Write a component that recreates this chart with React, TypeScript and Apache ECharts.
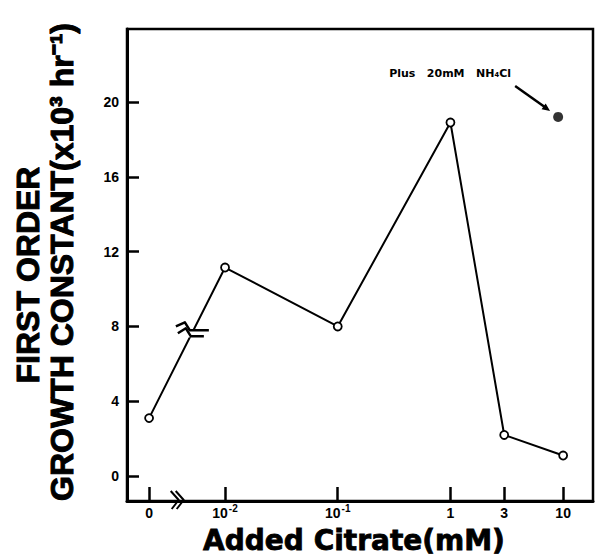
import React, { useEffect, useRef } from "react";
import * as echarts from "echarts";

// ---- data ----
const xLabelBase = ["0", "10", "10", "1", "3", "10"];
const xLabelExp = ["", "-2", "-1", "", "", ""];
const citrateMM = [0, 0.01, 0.1, 1, 3, 10];
const growthConstant = [3.1, 11.15, 8.0, 18.9, 2.2, 1.1];
const nh4clCitrate = [10];
const nh4clGrowth = [19.2];
const yTicks = [0, 4, 8, 12, 16, 20];

// log-scale position on axis (decades above 10^-2); 0 sits left of an axis break
const ZERO_POS = -0.674;
const AXIS_BREAK_POS = -0.42;
const toAxis = (c: number) => (c === 0 ? ZERO_POS : Math.log10(c) + 2);
const xPositions = citrateMM.map(toAxis);

const FONT_LABEL = '"Liberation Sans", Arial, sans-serif';

export default function App() {
  const ref = useRef<HTMLDivElement>(null);
  useEffect(() => {
    if (!ref.current) return;
    const chart = echarts.init(ref.current, undefined, { renderer: "svg" });
    const option: any = {
      animation: false,
      backgroundColor: "#fff",
      grid: {
        left: 127,
        top: 29,
        width: 466,
        height: 472,
        show: true,
        borderColor: "#000",
        borderWidth: 2.5,
        backgroundColor: "transparent",
      },
      xAxis: {
        type: "value",
        min: -0.87,
        max: 3.265,
        axisLine: { show: true, onZero: false, lineStyle: { color: "#000", width: 3 } },
        axisTick: {
          show: true,
          inside: true,
          length: 14,
          customValues: xPositions,
          lineStyle: { color: "#000", width: 2.5 },
        },
        axisLabel: {
          customValues: xPositions,
          margin: 1,
          color: "#000",
          fontSize: 14,
          fontWeight: "bold",
          fontFamily: FONT_LABEL,
          formatter: (v: number) => {
            const i = xPositions.findIndex((p) => Math.abs(p - v) < 1e-6);
            if (i < 0) return "";
            return xLabelExp[i]
              ? `{b|${xLabelBase[i]}}{s|${xLabelExp[i]}}`
              : `{b|${xLabelBase[i]}}`;
          },
          rich: {
            b: { fontSize: 14, fontWeight: "bold", fontFamily: FONT_LABEL, color: "#000", lineHeight: 18, verticalAlign: "bottom" },
            s: { fontSize: 10, fontWeight: "bold", fontFamily: FONT_LABEL, color: "#000", lineHeight: 10, verticalAlign: "top", padding: [1, 0, 0, 1] },
          },
        },
        splitLine: { show: false },
      },
      yAxis: {
        type: "value",
        min: -1.33,
        max: 23.9,
        axisLine: { show: true, onZero: false, lineStyle: { color: "#000", width: 3 } },
        axisTick: {
          show: true,
          inside: true,
          length: 12,
          customValues: yTicks,
          lineStyle: { color: "#000", width: 2.5 },
        },
        axisLabel: {
          customValues: yTicks,
          margin: 8,
          color: "#000",
          fontSize: 14,
          fontWeight: "bold",
          fontFamily: FONT_LABEL,
        },
        splitLine: { show: false },
      },
      series: [
        {
          type: "line",
          data: citrateMM.map((c, i) => [toAxis(c), growthConstant[i]]),
          symbol: "circle",
          symbolSize: 8,
          itemStyle: { color: "#fff", borderColor: "#000", borderWidth: 1.8 },
          lineStyle: { color: "#000", width: 2 },
          z: 3,
        },
        {
          type: "scatter",
          data: nh4clCitrate.map((c, i) => [toAxis(c), nh4clGrowth[i]]),
          symbol: "circle",
          symbolSize: 10,
          symbolOffset: [-5, 0],
          itemStyle: { color: "#000" },
          z: 4,
        },
      ],
    };
    chart.setOption(option);

    const px = (x: number, y: number) =>
      chart.convertToPixel({ gridIndex: 0 }, [x, y]) as number[];
    const p0 = px(xPositions[0], growthConstant[0]);
    const p1 = px(xPositions[1], growthConstant[1]);
    const t = 0.55;
    const bc = [p0[0] + (p1[0] - p0[0]) * t, p0[1] + (p1[1] - p0[1]) * t];
    const ax = px(AXIS_BREAK_POS, 0);
    const axY = px(0, -1.33)[1];
    const fp = px(toAxis(nh4clCitrate[0]), nh4clGrowth[0]);
    const fpx = fp[0] - 5;
    const fpy = fp[1];

    const rel = (c: number[], pts: number[][]) => pts.map((p) => [c[0] + p[0], c[1] + p[1]]);
    const blk = { stroke: "#000", lineWidth: 2.5, fill: null, lineJoin: "round" };

    // arrow
    const a0 = [fpx - 43, fpy - 31];
    const a1 = [fpx - 8, fpy - 6];
    const ang = Math.atan2(a1[1] - a0[1], a1[0] - a0[0]);
    const ah = 8, aw = 3.5;
    const head = [
      a1,
      [a1[0] - ah * Math.cos(ang) + aw * Math.sin(ang), a1[1] - ah * Math.sin(ang) - aw * Math.cos(ang)],
      [a1[0] - ah * Math.cos(ang) - aw * Math.sin(ang), a1[1] - ah * Math.sin(ang) + aw * Math.cos(ang)],
    ];

    chart.setOption({
      graphic: [
        // break on data line
        { type: "rect", z: 100, shape: { x: bc[0] - 7, y: bc[1] - 5, width: 12, height: 7 }, style: { fill: "#fff" } },
        { type: "polyline", z: 101, shape: { points: rel(bc, [[-15, -9], [-6, -13], [-1, -5], [18, -5]]) }, style: blk },
        { type: "polyline", z: 101, shape: { points: rel(bc, [[-13, -2], [-5, -7], [0, 1], [13, 1]]) }, style: blk },
        // break on x axis
        { type: "polyline", z: 101, shape: { points: rel([ax[0], axY], [[-7, -10], [1, -1], [-6, 8]]) }, style: { ...blk, lineWidth: 2 } },
        { type: "polyline", z: 101, shape: { points: rel([ax[0], axY], [[-2, -10], [6, -1], [-1, 8]]) }, style: { ...blk, lineWidth: 2 } },
        // annotation
        {
          type: "text", z: 101, x: fpx - 108, y: fpy - 43,
          style: {
            text: "Plus   20mM   NH₄Cl",
            fontSize: 11, fontWeight: "bold", fontFamily: '"DejaVu Sans", sans-serif',
            align: "center", verticalAlign: "middle", fill: "#000",
          },
        },
        { type: "line", z: 101, shape: { x1: a0[0], y1: a0[1], x2: a1[0] - 4 * Math.cos(ang), y2: a1[1] - 4 * Math.sin(ang) }, style: { stroke: "#000", lineWidth: 2.5 } },
        { type: "polygon", z: 101, shape: { points: head }, style: { fill: "#000" } },
        // axis titles
        {
          type: "text", z: 101, x: 28, y: 275, rotation: Math.PI / 2,
          style: {
            text: "FIRST ORDER",
            fontSize: 32, fontWeight: "bold", fontFamily: FONT_LABEL,
            align: "center", verticalAlign: "middle", fill: "#000", stroke: "#000", lineWidth: 1,
          },
        },
        {
          type: "text", z: 101, x: 62, y: 262, rotation: Math.PI / 2,
          style: {
            text: "GROWTH CONSTANT(x10³ hr⁻¹)",
            fontSize: 32, fontWeight: "bold", fontFamily: FONT_LABEL,
            align: "center", verticalAlign: "middle", fill: "#000", stroke: "#000", lineWidth: 1,
          },
        },
        {
          type: "text", z: 101, x: 354, y: 540,
          style: {
            text: "Added Citrate(mM)",
            fontSize: 28, fontWeight: "bold", fontFamily: '"DejaVu Sans", sans-serif',
            align: "center", verticalAlign: "middle", fill: "#000", stroke: "#000", lineWidth: 0.8,
          },
        },
      ],
    });

    return () => chart.dispose();
  }, []);
  return (
    <div
      ref={ref}
      style={{ position: "fixed", left: 0, top: 0, width: 599, height: 559, background: "#fff" }}
    />
  );
}
